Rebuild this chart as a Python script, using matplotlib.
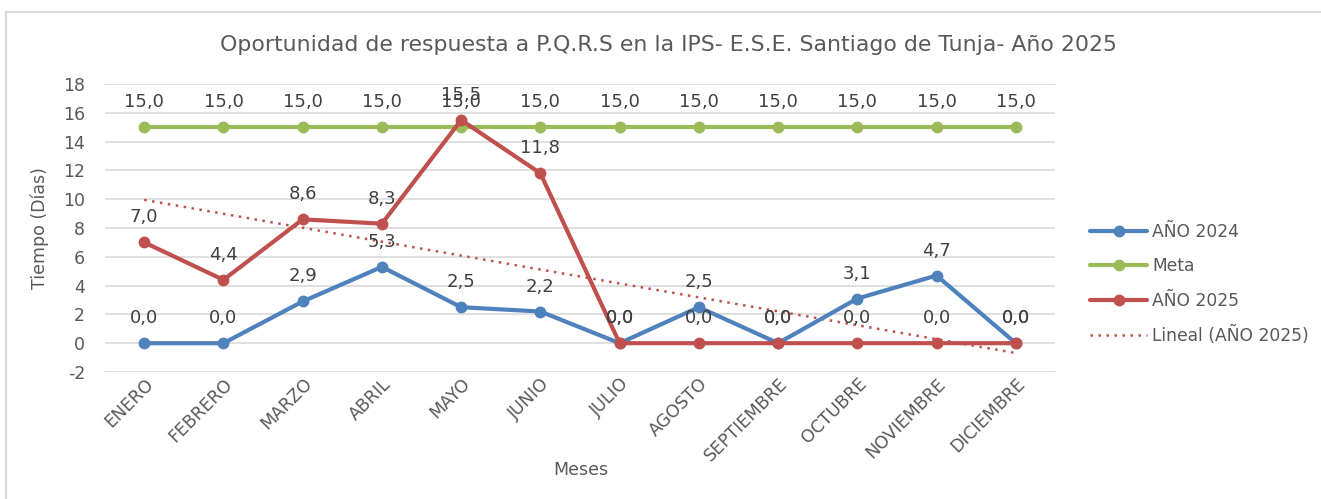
import numpy as np
import matplotlib
matplotlib.use("Agg")
import matplotlib.pyplot as plt
from matplotlib.patches import Rectangle

months = ["ENERO", "FEBRERO", "MARZO", "ABRIL", "MAYO", "JUNIO", "JULIO",
          "AGOSTO", "SEPTIEMBRE", "OCTUBRE", "NOVIEMBRE", "DICIEMBRE"]
anio_2024 = [0.0, 0.0, 2.9, 5.3, 2.5, 2.2, 0.0, 2.5, 0.0, 3.1, 4.7, 0.0]
meta = [15.0] * 12
anio_2025 = [7.0, 4.4, 8.6, 8.3, 15.5, 11.8, 0.0, 0.0, 0.0, 0.0, 0.0, 0.0]

BLUE = "#4f81bd"
GREEN = "#9bbb59"
RED = "#c0504d"
TXT = "#404040"

plt.rcParams['font.family'] = ['DejaVu Sans']
plt.rcParams['axes.unicode_minus'] = False

fig = plt.figure(figsize=(13.21, 4.99), dpi=100)
fig.patches.append(Rectangle((6 / 1321, -0.01), 1.1, (499 - 12) / 499 + 0.01,
                             transform=fig.transFigure, fill=False,
                             edgecolor="#d9d9d9", linewidth=1.5))
ax = fig.add_axes([104.6 / 1321, 1 - 372 / 499, (1055.4 - 104.6) / 1321, (372 - 84) / 499])

x = np.arange(len(months))

def fmt(v):
    return f"{v:.1f}".replace(".", ",")

for data, color, label in [(anio_2024, BLUE, "AÑO 2024"), (meta, GREEN, "Meta"), (anio_2025, RED, "AÑO 2025")]:
    ax.plot(x, data, color=color, linewidth=3, marker="o", markersize=7.5,
            label=label, zorder=3, solid_capstyle="round")

# linear trendline for 2025
coef = np.polyfit(x, anio_2025, 1)
trend = np.polyval(coef, x)
ax.plot(x, trend, color=RED, linestyle=(0, (1, 2.2)), linewidth=1.8,
        label="Lineal (AÑO 2025)", zorder=2)

for data in (anio_2024, meta, anio_2025):
    for xi, v in zip(x, data):
        ax.annotate(fmt(v), (xi, v), xytext=(0, 18), textcoords="offset points",
                    ha="center", va="center", fontsize=13, color=TXT, zorder=4)

ax.set_xlim(-0.5, len(months) - 0.5)
ax.set_ylim(-2, 18)
ax.set_yticks(np.arange(-2, 19, 2))
ax.set_xticks(x)
ax.set_xticklabels(months, rotation=45, ha="right", rotation_mode="anchor",
                   fontsize=12.5, color="#595959")
ax.tick_params(axis="y", labelsize=12.5, colors="#595959", length=0, pad=14)
ax.tick_params(axis="x", length=0, pad=2)
ax.grid(axis="y", color="#d9d9d9", linewidth=1.2)
ax.set_axisbelow(True)
for s in ax.spines.values():
    s.set_visible(False)

ax.set_ylabel("Tiempo (Días)", fontsize=12.5, color="#595959", labelpad=10)
fig.text(581 / 1321, 1 - 470 / 499, "Meses", ha="center", va="center",
         fontsize=12.5, color="#595959")
fig.text(668 / 1321, 1 - 45 / 499,
         "Oportunidad de respuesta a P.Q.R.S en la IPS- E.S.E. Santiago de Tunja- Año 2025",
         ha="center", va="center", fontsize=15.8, color="#595959")

leg = ax.legend(loc="center left", bbox_to_anchor=(1075 / 1321, 1 - 284 / 499),
                bbox_transform=fig.transFigure, frameon=False, fontsize=12.3,
                labelcolor="#595959", handlelength=3.3, handletextpad=0.3,
                labelspacing=0.95)

fig.savefig("out.png", dpi=100)
